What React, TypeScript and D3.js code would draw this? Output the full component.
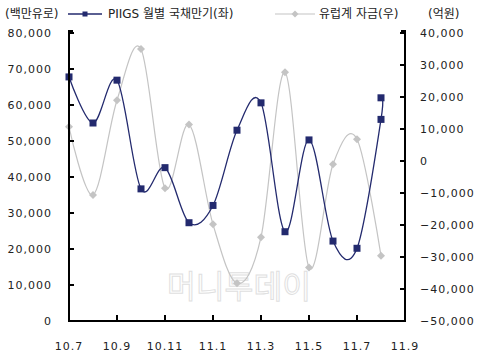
import React from "react";
import * as d3 from "d3";

const months = ["10.7","10.8","10.9","10.10","10.11","10.12","11.1","11.2","11.3","11.4","11.5","11.6","11.7","11.8","11.9"];
const tickLabels = ["10.7","10.9","10.11","11.1","11.3","11.5","11.7","11.9"];
const piigsMonths = ["10.7","10.8","10.9","10.10","10.11","10.12","11.1","11.2","11.3","11.4","11.5","11.6","11.7","11.8","11.8"];
const piigsValues = [67800,55000,66900,36700,42600,27300,32100,53000,60600,24800,50300,22200,20200,56000,62000];
const euroMonths = ["10.7","10.8","10.9","10.10","10.11","10.12","11.1","11.2","11.3","11.4","11.5","11.6","11.7","11.8"];
const euroValues = [10700,-10600,19000,35000,-8500,11400,-19800,-38200,-23800,27700,-33300,-1000,6800,-29600];
const leftTicks = [0,10000,20000,30000,40000,50000,60000,70000,80000];
const rightTicks = [-50000,-40000,-30000,-20000,-10000,0,10000,20000,30000,40000];

const NAVY = "#232a6e";
const GRAY = "#c4c4c4";
const FONT = "'DejaVu Sans', 'Noto Sans CJK KR', sans-serif";

export default function App() {
  const x = d3.scalePoint<string>().domain(months).range([69, 405]);
  const yL = d3.scaleLinear().domain([0, 80000]).range([321, 33]);
  const yR = d3.scaleLinear().domain([-50000, 40000]).range([321, 33]);
  const fmt = (v: number) => (v < 0 ? "\u2212" : "") + d3.format(",")(Math.abs(v));

  const line = d3.line<[number, number]>().x(d => d[0]).y(d => d[1]).curve(d3.curveCardinal.tension(0));
  const navyPts: [number, number][] = piigsValues.map((v, i) => [x(piigsMonths[i])!, yL(v)]);
  const grayPts: [number, number][] = euroValues.map((v, i) => [x(euroMonths[i])!, yR(v)]);

  const diamond = (cx: number, cy: number, r: number) => `M${cx},${cy - r}L${cx + r},${cy}L${cx},${cy + r}L${cx - r},${cy}Z`;

  return (
    <svg width={481} height={357} style={{ position: "absolute", left: 0, top: 0, background: "#fff" }} fontFamily={FONT}>
      <rect width={481} height={357} fill="#fff" />
      {/* watermark */}
      <text x={239} y={298} textAnchor="middle" fontSize={32} fill="#fff" stroke="#e0e0e0" strokeWidth={1} fontFamily="'Noto Sans CJK KR', sans-serif" textLength={144} lengthAdjust="spacingAndGlyphs">머니투데이</text>

      {/* legend */}
      <text x={5} y={18} fontSize={12} fill="#222">(백만유로)</text>
      <line x1={68} x2={102} y1={14} y2={14} stroke={NAVY} strokeWidth={1.5} />
      <rect x={82.5} y={11.5} width={5} height={5} fill={NAVY} />
      <text x={108} y={18} fontSize={12} fill="#222">PIIGS 월별 국채만기(좌)</text>
      <line x1={275} x2={315} y1={14} y2={14} stroke={GRAY} strokeWidth={1.2} />
      <path d={diamond(295, 14, 3.5)} fill={GRAY} />
      <text x={319} y={18} fontSize={12} fill="#222">유럽계 자금(우)</text>
      <text x={428} y={18} fontSize={12} fill="#222">(억원)</text>

      {/* series */}
      <path d={line(grayPts) || ""} fill="none" stroke={GRAY} strokeWidth={1.2} />
      {grayPts.map((p, i) => <path key={"g" + i} d={diamond(p[0], p[1], 4)} fill={GRAY} />)}
      <path d={line(navyPts) || ""} fill="none" stroke={NAVY} strokeWidth={1.3} />
      {navyPts.map((p, i) => <rect key={"n" + i} x={p[0] - 3.5} y={p[1] - 3.5} width={7} height={7} fill={NAVY} />)}

      {/* axes */}
      <g stroke="#000" strokeWidth={2} fill="none">
        <line x1={69} x2={69} y1={30} y2={322} />
        <line x1={405} x2={405} y1={30} y2={322} />
        <line x1={68} x2={406} y1={321} y2={321} />
        {leftTicks.map(t => <line key={"lt" + t} x1={69} x2={74} y1={yL(t)} y2={yL(t)} />)}
        <line x1={69} x2={73} y1={31} y2={31} />
        {rightTicks.map(t => <line key={"rt" + t} x1={400} x2={405} y1={yR(t)} y2={yR(t)} />)}
        <line x1={401} x2={405} y1={31} y2={31} />
        {tickLabels.map(t => <line key={"xt" + t} x1={x(t)!} x2={x(t)!} y1={321} y2={315} />)}
      </g>

      {leftTicks.map(t => (
        <text key={"ll" + t} x={52} y={yL(t) + 4} textAnchor="end" fontSize={11} letterSpacing={1} fill="#222">{fmt(t)}</text>
      ))}
      {rightTicks.map(t => (
        <text key={"rl" + t} x={420} y={yR(t) + 4} fontSize={11} letterSpacing={1} fill="#222">{fmt(t)}</text>
      ))}
      {tickLabels.map(t => (
        <text key={"xl" + t} x={x(t)!} y={350} textAnchor="middle" fontSize={11} letterSpacing={1} fill="#222">{t}</text>
      ))}
    </svg>
  );
}
